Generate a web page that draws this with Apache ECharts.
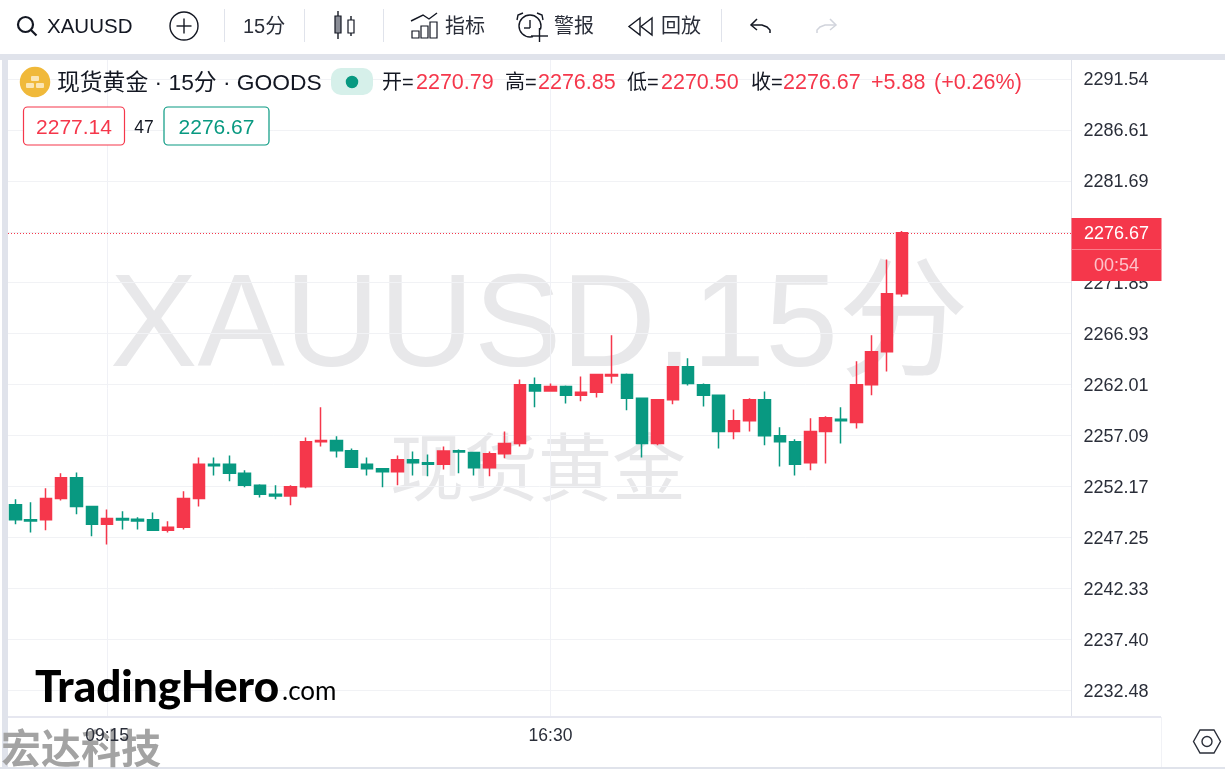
<!DOCTYPE html>
<html>
<head>
<meta charset="utf-8">
<style>
    html, body { margin: 0; padding: 0; background: #fff; }
    #main { width: 1225px; height: 769px; }
</style>
<script src="https://cdn.jsdelivr.net/npm/echarts@6/dist/echarts.min.js"></script>
</head>
<body>
<div id="main"></div>
<script>
// 15 minute bars, extra slots on the right stay empty
var times = ['07:45','08:00','08:15','08:30','08:45','09:00','09:15','09:30','09:45','10:00','10:15','10:30','10:45','11:00','11:15','11:30','11:45','12:00','12:15','12:30','12:45','13:00','13:15','13:30','13:45','14:00','14:15','14:30','14:45','15:00','15:15','15:30','15:45','16:00','16:15','16:30','16:45','17:00','17:15','17:30','17:45','18:00','18:15','18:30','18:45','19:00','19:15','19:30','19:45','20:00','20:15','20:30','20:45','21:00','21:15','21:30','21:45','22:00','22:15','22:30','22:45','23:00','23:15','23:30','23:45','00:00','00:15','00:30','00:45','01:00']
var shownTimes = ['09:15', '16:30']

var opens = [2250.43,2248.98,2248.98,2251.01,2253.03,2250.26,2248.53,2249.10,2249.01,2248.98,2247.95,2248.24,2251.01,2254.32,2254.32,2253.45,2252.29,2251.42,2251.26,2252.16,2256.51,2256.63,2255.64,2254.32,2253.90,2253.61,2254.77,2254.48,2254.32,2255.64,2255.47,2253.99,2255.35,2256.34,2262.01,2261.39,2261.84,2260.98,2261.27,2262.84,2263.00,2260.69,2256.34,2260.56,2263.75,2262.01,2260.98,2257.50,2258.53,2260.56,2257.09,2256.51,2254.48,2257.50,2258.66,2258.37,2262.01,2265.19,2270.79]
var closes = [2248.98,2248.84,2251.01,2253.03,2250.26,2248.53,2249.10,2248.94,2248.84,2247.95,2248.24,2251.01,2254.32,2254.19,2253.45,2252.29,2251.42,2251.26,2252.16,2256.51,2256.63,2255.64,2254.03,2253.90,2253.61,2254.77,2254.48,2254.32,2255.60,2255.50,2253.99,2255.35,2256.34,2262.01,2261.39,2261.84,2260.98,2261.27,2263.00,2263.00,2260.69,2256.34,2260.56,2263.75,2262.13,2260.98,2257.50,2258.53,2260.56,2257.09,2256.51,2254.32,2257.50,2258.82,2258.53,2262.01,2265.19,2270.79,2276.67]
var lows = [2248.53,2247.75,2247.95,2250.84,2249.49,2247.37,2246.59,2248.04,2248.04,2247.95,2247.75,2248.04,2250.26,2253.25,2252.68,2252.10,2251.13,2250.94,2250.36,2252.00,2256.05,2254.99,2254.03,2253.25,2252.10,2252.29,2253.25,2253.16,2253.83,2253.45,2253.25,2253.16,2254.90,2256.05,2259.82,2261.41,2260.20,2260.40,2260.78,2262.13,2259.53,2254.99,2256.15,2260.11,2261.94,2259.91,2255.86,2256.73,2257.50,2256.15,2254.12,2253.25,2253.74,2254.41,2256.34,2257.79,2260.98,2263.29,2270.50]
var highs = [2250.94,2250.65,2252.00,2253.45,2253.54,2250.26,2249.97,2249.78,2249.20,2249.68,2248.82,2251.71,2254.99,2254.99,2255.18,2253.74,2252.39,2252.29,2252.29,2256.92,2259.82,2257.02,2255.86,2254.99,2253.90,2255.18,2255.57,2255.28,2256.05,2255.76,2255.47,2255.57,2257.50,2262.52,2262.71,2262.13,2261.94,2262.81,2263.00,2266.77,2263.10,2260.69,2260.56,2263.80,2264.55,2262.13,2260.98,2259.62,2260.69,2261.36,2257.89,2256.73,2258.76,2258.95,2259.82,2264.26,2266.77,2274.10,2276.85]

var priceTicks = [2232.48,2237.40,2242.33,2247.25,2252.17,2257.09,2262.01,2266.93,2271.85,2276.77,2281.69,2286.61,2291.54]
var lastPrice = 2276.67
var yMin = 2229.93
var yMax = 2293.35

var RED = '#f5374b'
var GREEN = '#089981'
var INK = '#131722'
var LINE = '#e0e3eb'
var FONT = '"Liberation Sans", "Noto Sans CJK SC", sans-serif'

function text (str, x, y, size, fill, align, z, weight) {
    return {
        type: 'text', x: x, y: y + 1.5, z: z === undefined ? 5 : z, silent: true,
        style: { text: str, fill: fill, align: align || 'left', verticalAlign: 'middle', font: (weight || 'normal') + ' ' + size + 'px ' + FONT }
    }
}
function seg (x1, y1, x2, y2, color, w, z) {
    return { type: 'line', z: z === undefined ? 5 : z, silent: true, shape: { x1: x1, y1: y1, x2: x2, y2: y2 }, style: { stroke: color, lineWidth: w || 1.5 } }
}
function box (x, y, w, h, fill, stroke, r, z) {
    return { type: 'rect', z: z === undefined ? 5 : z, silent: true, shape: { x: x, y: y, width: w, height: h, r: r || 0 }, style: { fill: fill, stroke: stroke || null, lineWidth: stroke ? 1.2 : 0 } }
}
function ring (cx, cy, r, stroke, fill, w) {
    return { type: 'circle', z: 5, silent: true, shape: { cx: cx, cy: cy, r: r }, style: { stroke: stroke, fill: fill || 'transparent', lineWidth: w || 1.5 } }
}
function poly (points, color, closed, w) {
    return { type: closed ? 'polygon' : 'polyline', z: 5, silent: true, shape: { points: points }, style: { stroke: color, fill: 'transparent', lineWidth: w || 1.5 } }
}

function panelParts () {
    return [
        box(0, 54, 1225, 6, LINE, null, 0, -10),
        box(2, 60, 6, 709, LINE, null, 0, -10),
        box(0, 767, 1225, 2, LINE, null, 0, -10),
        box(8, 60, 1217, 707, '#fff', null, [6, 0, 0, 0], -9),
        seg(8, 717, 1161, 717, '#e6e7f0', 2, 1),
        seg(1161.5, 717, 1161.5, 767, '#f1f2f6', 1, 1),
        seg(224.5, 9, 224.5, 42, LINE, 1),
        seg(304.5, 9, 304.5, 42, LINE, 1),
        seg(383.5, 9, 383.5, 42, LINE, 1),
        seg(721.5, 9, 721.5, 42, LINE, 1)
    ]
}

function toolbarParts () {
    var list = [
        // search
        ring(25.5, 24.5, 7.5, INK, null, 2.2),
        seg(31, 30, 36.5, 35.5, INK, 2.2),
        text('XAUUSD', 47, 26, 20.5, INK),
        // add symbol
        ring(184, 26, 14, INK, null, 1.4),
        seg(176.5, 26, 191.5, 26, INK, 1.4),
        seg(184, 18.5, 184, 33.5, INK, 1.4),
        text('15分', 243, 26, 20, '#2a2e39'),
        // candle type
        seg(338, 11, 338, 39, INK, 1.4),
        box(335, 16, 6, 17, '#8a8d96', INK, 0),
        seg(351, 16, 351, 36, INK, 1.4),
        box(348, 20, 6, 13, '#fff', INK, 0),
        // indicators
        poly([[411, 21], [423, 15], [429, 19], [437, 13]], INK, false, 1.4),
        box(412, 31, 7, 7, '#fff', INK, 0),
        box(421, 26, 7, 12, '#fff', INK, 0),
        box(430, 22, 7, 16, '#fff', INK, 0),
        text('指标', 445, 26, 20, '#2a2e39'),
        // alarm
        ring(530, 26, 11, INK, null, 1.4),
        seg(530, 20, 530, 28, INK, 1.4),
        seg(524, 28, 530, 28, INK, 1.4),
        poly([[517, 20], [518, 15], [523, 13]], INK, false, 1.4),
        poly([[543, 20], [542, 15], [537, 13]], INK, false, 1.4),
        ring(539.5, 36, 6, '#fff', '#fff', 1),
        seg(531, 36, 548, 36, INK, 1.4),
        seg(539.5, 28, 539.5, 42, INK, 1.4),
        text('警报', 554, 26, 20, '#2a2e39'),
        // replay
        poly([[640, 18], [629, 26.5], [640, 35]], INK, true, 1.4),
        poly([[652, 18], [641, 26.5], [652, 35]], INK, true, 1.4),
        text('回放', 661, 26, 20, '#2a2e39'),
        // undo / redo
        poly([[757, 19], [751, 25], [757, 30]], INK, false, 1.5),
        poly([[751, 25], [762, 25], [767, 27], [770, 30], [770, 33]], INK, false, 1.5),
        poly([[830, 19], [836, 25], [830, 30]], '#d1d4dc', false, 1.5),
        poly([[836, 25], [825, 25], [820, 27], [817, 30], [817, 33]], '#d1d4dc', false, 1.5)
    ]
    return list
}

function legendParts () {
    return [
        ring(35, 82, 14.5, '#f0b93a', '#f0b93a', 0),
        box(31, 76, 8, 5, '#fbe6b5', null, 1),
        box(26, 83, 8, 5, '#fbe6b5', null, 1),
        box(36, 83, 8, 5, '#fbe6b5', null, 1),
        text('现货黄金 · 15分 · GOODS', 57, 82, 22.8, INK),
        box(331, 68, 42, 27, '#d6f0ea', null, 10),
        ring(352, 82, 5.5, GREEN, GREEN, 0),
        text('开=', 382, 82, 20, INK),
        text('2270.79', 416, 82, 21.5, RED),
        text('高=', 505, 82, 20, INK),
        text('2276.85', 538, 82, 21.5, RED),
        text('低=', 627, 82, 20, INK),
        text('2270.50', 661, 82, 21.5, RED),
        text('收=', 751, 82, 20, INK),
        text('2276.67', 783, 82, 21.5, RED),
        text('+5.88', 871, 82, 21.5, RED),
        text('(+0.26%)', 934, 82, 21.5, RED),
        box(23.5, 107, 101, 38, '#fff', RED, 4),
        text('2277.14', 74, 126.5, 21, RED, 'center'),
        text('47', 144, 127, 17.5, INK, 'center'),
        box(164, 107, 105, 38, '#fff', GREEN, 4),
        text('2276.67', 216.5, 126.5, 21, GREEN, 'center')
    ]
}

function markParts () {
    return [
        text('XAUUSD.15分', 110, 328, 131, '#e8e8ea', 'left', -5),
        text('现货黄金', 390, 473, 74, '#e8e8ea', 'left', -5),
        // price tag
        box(1071.5, 218, 90, 63, RED, null, 0, 20),
        seg(1071.5, 249.5, 1161.5, 249.5, '#fa7d8a', 1, 21),
        text('2276.67', 1116.5, 232.5, 18, '#fff', 'center', 21),
        text('00:54', 1116.5, 264.5, 18, '#fdc3ca', 'center', 21),
        // logos
        { type: 'text', x: 35, y: 688, z: 6, silent: true, style: { text: 'TradingHero', fill: '#000', verticalAlign: 'middle', font: '900 44px Lato, ' + FONT } },
        { type: 'text', x: 282, y: 692, z: 6, silent: true, style: { text: '.com', fill: '#000', verticalAlign: 'middle', font: 'normal 26px Lato, ' + FONT } },
        text('宏达科技', 1, 750, 40, '#a3a3a3', 'left', -1, 'bold'),
        // settings
        poly([[1193.5, 741.5], [1200, 730], [1214, 730], [1220.5, 741.5], [1214, 753], [1200, 753]], '#2a2e39', true, 1.4),
        ring(1207, 741.5, 5, '#2a2e39', null, 1.4)
    ]
}

var candleData = times.slice(0, opens.length).map(function (t, i) {
    return [opens[i], closes[i], lows[i], highs[i]]
})

var option = {
    animation: false,
    backgroundColor: '#fff',
    textStyle: { fontFamily: FONT },
    graphic: { elements: panelParts().concat(toolbarParts(), legendParts(), markParts()) },
    grid: [
        // price scale grid
        { left: 8, top: 60, width: 1063, height: 657 },
        // candle grid, a bit wider so the bars keep their spacing
        { left: 7.7, top: 60, width: 1070.3, height: 657 }
    ],
    xAxis: [
        { type: 'category', gridIndex: 0, show: false, data: times },
        {
            type: 'category',
            gridIndex: 1,
            data: times,
            axisLine: { show: false },
            axisTick: { show: false },
            axisLabel: {
                color: '#2a2e39',
                fontSize: 17.5,
                margin: 10,
                interval: function (i, v) { return shownTimes.indexOf(v) > -1 }
            },
            splitLine: {
                show: true,
                alignWithLabel: true,
                interval: function (i, v) { return shownTimes.indexOf(v) > -1 },
                lineStyle: { color: '#f0f1f6', width: 1 }
            }
        }
    ],
    yAxis: [
        {
            type: 'value',
            gridIndex: 0,
            position: 'right',
            min: yMin,
            max: yMax,
            axisLine: { show: true, lineStyle: { color: LINE, width: 1 } },
            axisTick: { show: false, customValues: priceTicks },
            axisLabel: {
                customValues: priceTicks,
                margin: 45,
                align: 'center',
                formatter: function (v) { return '{p|' + v.toFixed(2) + '}' },
                rich: {
                    // pushes the number down onto its grid line
                    p: { color: '#2a2e39', fontSize: 18, padding: [3, 0, 0, 0] }
                }
            },
            splitLine: { show: true, lineStyle: { color: '#f1f2f5', width: 1 } }
        },
        { type: 'value', gridIndex: 1, show: false, min: yMin, max: yMax, splitLine: { show: false } }
    ],
    series: [
        {
            type: 'line',
            xAxisIndex: 0,
            yAxisIndex: 0,
            data: [],
            symbol: 'none',
            silent: true,
            markLine: {
                silent: true,
                symbol: 'none',
                label: { show: false },
                lineStyle: { color: RED, type: [1, 2], width: 1 },
                data: [{ yAxis: lastPrice }]
            }
        },
        {
            type: 'candlestick',
            xAxisIndex: 1,
            yAxisIndex: 1,
            barWidth: 12,
            data: candleData,
            itemStyle: {
                color: RED,
                color0: GREEN,
                borderColor: RED,
                borderColor0: GREEN,
                borderWidth: 1.5
            }
        }
    ]
}

var myChart = echarts.init(document.getElementById('main'))
myChart.setOption(option)
</script>
</body>
</html>
